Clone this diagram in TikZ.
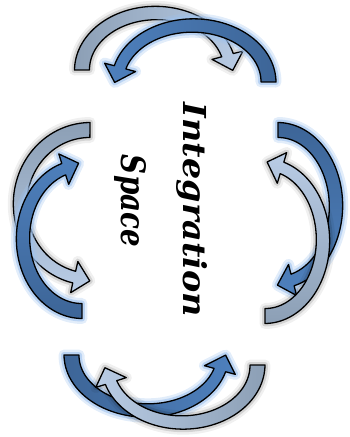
\documentclass[tikz,border=0pt]{standalone}
\usepackage{fontspec}
\setmainfont{Liberation Serif}
\newfontfamily\wordfont{DejaVu Serif}
\usepackage{graphicx}
\definecolor{cgray}{HTML}{8C9FB5}
\definecolor{clight}{HTML}{B9CCE5}
\definecolor{cdark}{HTML}{3D6597}
\definecolor{cmed}{HTML}{4E80BD}
\definecolor{cglow}{HTML}{9EC2EE}
\def\hA{7.5}\def\hB{6}\def\hH{16}\def\hl{16}
\newcommand\carrow[7]{%
  \pgfmathsetmacro\ca{#6}%
  \pgfmathsetmacro\sg{ifthenelse(#6>#5,1,-1)}%
  \pgfmathsetmacro\tx{-(#3)*sin(\ca)*\sg}%
  \pgfmathsetmacro\ty{(#4)*cos(\ca)*\sg}%
  \pgfmathsetmacro\tn{sqrt(\tx*\tx+\ty*\ty)}%
  \pgfmathsetmacro\tipx{#1+(#3)*cos(\ca)+\hl*\tx/\tn}%
  \pgfmathsetmacro\tipy{#2+(#4)*sin(\ca)+\hl*\ty/\tn}%
  \path[#7] plot[domain=0:1,samples=60,variable=\t]
      ({#1+(#3+\hA+(\hB-\hA)*\t)*cos(#5+(#6-#5)*\t)},{#2+(#4+\hA+(\hB-\hA)*\t)*sin(#5+(#6-#5)*\t)})
    -- ({#1+(#3+\hH)*cos(\ca)},{#2+(#4+\hH)*sin(\ca)})
    -- (\tipx,\tipy)
    -- ({#1+(#3-\hH)*cos(\ca)},{#2+(#4-\hH)*sin(\ca)})
    -- plot[domain=0:1,samples=60,variable=\t]
      ({#1+(#3-\hA-(\hB-\hA)*(1-\t))*cos(#5+(#6-#5)*(1-\t))},{#2+(#4-\hA-(\hB-\hA)*(1-\t))*sin(#5+(#6-#5)*(1-\t))})
    -- cycle;
}
\newcommand\glowarrow[7]{%
  \carrow{#1}{#2}{#3}{#4}{#5}{#6}{glowA}%
  \carrow{#1}{#2}{#3}{#4}{#5}{#6}{glowB}%
  \carrow{#1}{#2}{#3}{#4}{#5}{#6}{arrowline,#7}%
}
\newcommand\shadarrow[7]{%
  \carrow{#1}{#2}{#3}{#4}{#5}{#6}{shadA}%
  \carrow{#1}{#2}{#3}{#4}{#5}{#6}{shadB}%
  \carrow{#1}{#2}{#3}{#4}{#5}{#6}{arrowline,#7}%
}
\tikzset{
  arrowline/.style={draw=black, line width=1.3pt, line join=round},
  glowA/.style={draw=cglow, line width=11pt, draw opacity=0.3, line join=round},
  glowB/.style={draw=cglow, line width=6pt, draw opacity=0.6, line join=round},
  shadA/.style={draw=black, line width=11pt, draw opacity=0.06, line join=round},
  shadB/.style={draw=black, line width=6pt, draw opacity=0.12, line join=round},
  wordstyle/.style={inner sep=0pt, rotate=-90},
}
\begin{document}
\begin{tikzpicture}[x=1pt,y=-1pt]
\useasboundingbox (0,0) rectangle (349,437);
% top group
\shadarrow{156}{70}{74}{57}{180}{345}{left color=cgray, right color=clight}
\glowarrow{193}{82}{75.5}{56.5}{360}{195}{left color=cmed, right color=cdark}
% left group
\shadarrow{90}{204.5}{70}{74.5}{270}{103}{top color=cgray, bottom color=clight}
\glowarrow{82}{238.3}{59}{72.7}{90}{252}{top color=cmed, bottom color=cdark}
% right group
\glowarrow{278}{206.2}{58}{76.2}{270}{435.5}{top color=cdark, bottom color=cmed}
\shadarrow{265}{240.3}{58}{75.7}{90}{-73}{top color=clight, bottom color=cgray}
% bottom group
\glowarrow{147.1}{355}{75.6}{55.5}{180}{15.7}{left color=cdark, right color=cmed}
\shadarrow{182.5}{365}{75}{57.5}{0}{162.3}{left color=clight, right color=cgray}
% text
\node[wordstyle] (integ) at (192,210) {\resizebox{214pt}{24pt}{\wordfont\bfseries\itshape Integration}};
\node[wordstyle] (space) at (130,201) {\resizebox{92pt}{25pt}{\wordfont\bfseries\itshape Space}};
\end{tikzpicture}
\end{document}
